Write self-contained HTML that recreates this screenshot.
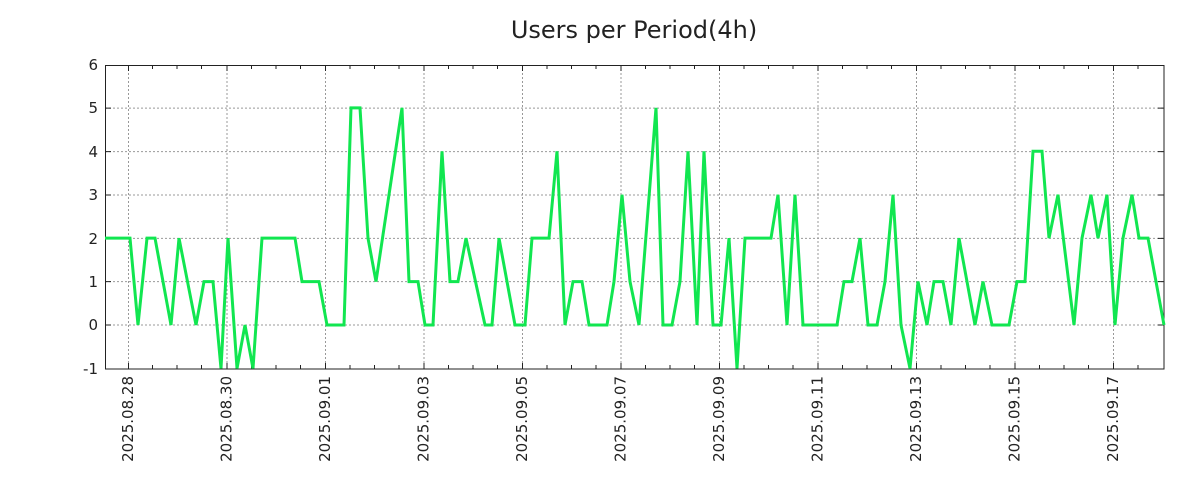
<!DOCTYPE html>
<html><head><meta charset="utf-8"><style>
html,body{margin:0;padding:0;background:#fff;width:1200px;height:500px;overflow:hidden}
text{font-family:"DejaVu Sans","Liberation Sans",sans-serif;fill:#222}
</style></head><body>
<svg width="1200" height="500" xmlns="http://www.w3.org/2000/svg">
<text x="634" y="38" font-size="24" text-anchor="middle">Users per Period(4h)</text>
<g stroke="#999" stroke-width="1" stroke-dasharray="2,2">
<line x1="105" x2="1164" y1="108.1" y2="108.1"/>
<line x1="105" x2="1164" y1="151.6" y2="151.6"/>
<line x1="105" x2="1164" y1="195" y2="195"/>
<line x1="105" x2="1164" y1="238.4" y2="238.4"/>
<line x1="105" x2="1164" y1="281.6" y2="281.6"/>
<line x1="105" x2="1164" y1="325" y2="325"/>
<line y1="65" y2="369" x1="128.5" x2="128.5"/>
<line y1="65" y2="369" x1="227" x2="227"/>
<line y1="65" y2="369" x1="325.5" x2="325.5"/>
<line y1="65" y2="369" x1="424" x2="424"/>
<line y1="65" y2="369" x1="522.5" x2="522.5"/>
<line y1="65" y2="369" x1="621" x2="621"/>
<line y1="65" y2="369" x1="719.5" x2="719.5"/>
<line y1="65" y2="369" x1="818" x2="818"/>
<line y1="65" y2="369" x1="916.5" x2="916.5"/>
<line y1="65" y2="369" x1="1015" x2="1015"/>
<line y1="65" y2="369" x1="1113.5" x2="1113.5"/>
</g>
<g stroke="#222" stroke-width="1">
<path d="M128.5 65v6M128.5 369v-6M227 65v6M227 369v-6M325.5 65v6M325.5 369v-6M424 65v6M424 369v-6M522.5 65v6M522.5 369v-6M621 65v6M621 369v-6M719.5 65v6M719.5 369v-6M818 65v6M818 369v-6M916.5 65v6M916.5 369v-6M1015 65v6M1015 369v-6M1113.5 65v6M1113.5 369v-6"/>
<path d="M152.5 65v4M152.5 369v-4M177 65v4M177 369v-4M201.5 65v4M201.5 369v-4M251.5 65v4M251.5 369v-4M276 65v4M276 369v-4M300.5 65v4M300.5 369v-4M350 65v4M350 369v-4M374.5 65v4M374.5 369v-4M399 65v4M399 369v-4M448.5 65v4M448.5 369v-4M473 65v4M473 369v-4M497.5 65v4M497.5 369v-4M547 65v4M547 369v-4M571.5 65v4M571.5 369v-4M596 65v4M596 369v-4M645.5 65v4M645.5 369v-4M670 65v4M670 369v-4M694.5 65v4M694.5 369v-4M744 65v4M744 369v-4M768.5 65v4M768.5 369v-4M793 65v4M793 369v-4M842.5 65v4M842.5 369v-4M867 65v4M867 369v-4M891.5 65v4M891.5 369v-4M941 65v4M941 369v-4M965.5 65v4M965.5 369v-4M990 65v4M990 369v-4M1039.5 65v4M1039.5 369v-4M1064 65v4M1064 369v-4M1088.5 65v4M1088.5 369v-4M1138 65v4M1138 369v-4"/>
<path d="M105 108.1h6M105 151.6h6M105 195h6M105 238.4h6M105 281.6h6M105 325h6M1164 108.1h-6M1164 151.6h-6M1164 195h-6M1164 238.4h-6M1164 281.6h-6M1164 325h-6"/>
<rect x="105.5" y="65.5" width="1058.5" height="303.5" fill="none"/>
</g>
<g font-size="15" text-anchor="end">
<text x="98" y="70">6</text><text x="98" y="113">5</text><text x="98" y="157">4</text>
<text x="98" y="200">3</text><text x="98" y="244">2</text><text x="98" y="287">1</text>
<text x="98" y="330">0</text><text x="98" y="374">-1</text>
</g>
<g font-size="15" text-anchor="end">
<text transform="translate(133,376) rotate(-90)">2025.08.28</text>
<text transform="translate(231.5,376) rotate(-90)">2025.08.30</text>
<text transform="translate(330,376) rotate(-90)">2025.09.01</text>
<text transform="translate(428.5,376) rotate(-90)">2025.09.03</text>
<text transform="translate(527,376) rotate(-90)">2025.09.05</text>
<text transform="translate(625.5,376) rotate(-90)">2025.09.07</text>
<text transform="translate(724,376) rotate(-90)">2025.09.09</text>
<text transform="translate(822.5,376) rotate(-90)">2025.09.11</text>
<text transform="translate(921,376) rotate(-90)">2025.09.13</text>
<text transform="translate(1019.5,376) rotate(-90)">2025.09.15</text>
<text transform="translate(1118,376) rotate(-90)">2025.09.17</text>
</g>
<g transform="translate(0,325) scale(1,-43.43)">
<polyline fill="none" stroke="#11e650" stroke-width="3" vector-effect="non-scaling-stroke" stroke-linejoin="miter" points="105,2 130,2 138,0 147,2 155,2 171,0 179,2 196,0 204,1 213,1 221,-1 228,2 237,-1 245,0 253,-1 262,2 295,2 302,1 319,1 327,0 344,0 351,5 360,5 368,2 376,1 402,5 409,1 418,1 425,0 433,0 442,4 450,1 458,1 466,2 485,0 492,0 499,2 515,0 525,0 532,2 549,2 557,4 565,0 573,1 582,1 589,0 607,0 614,1 622,3 630,1 639,0 656,5 663,0 672,0 680,1 688,4 697,0 704,4 713,0 721,0 729,2 737,-1 745,2 771,2 778,3 787,0 795,3 803,0 837,0 844,1 852,1 860,2 868,0 877,0 885,1 893,3 901,0 910,-1 918,1 927,0 934,1 943,1 951,0 959,2 975,0 983,1 992,0 1009,0 1017,1 1025,1 1033,4 1042,4 1049,2 1058,3 1074,0 1082,2 1091,3 1098,2 1107,3 1115,0 1123,2 1132,3 1139,2 1148,2 1164,0"/>
</g>
</svg>
</body></html>
